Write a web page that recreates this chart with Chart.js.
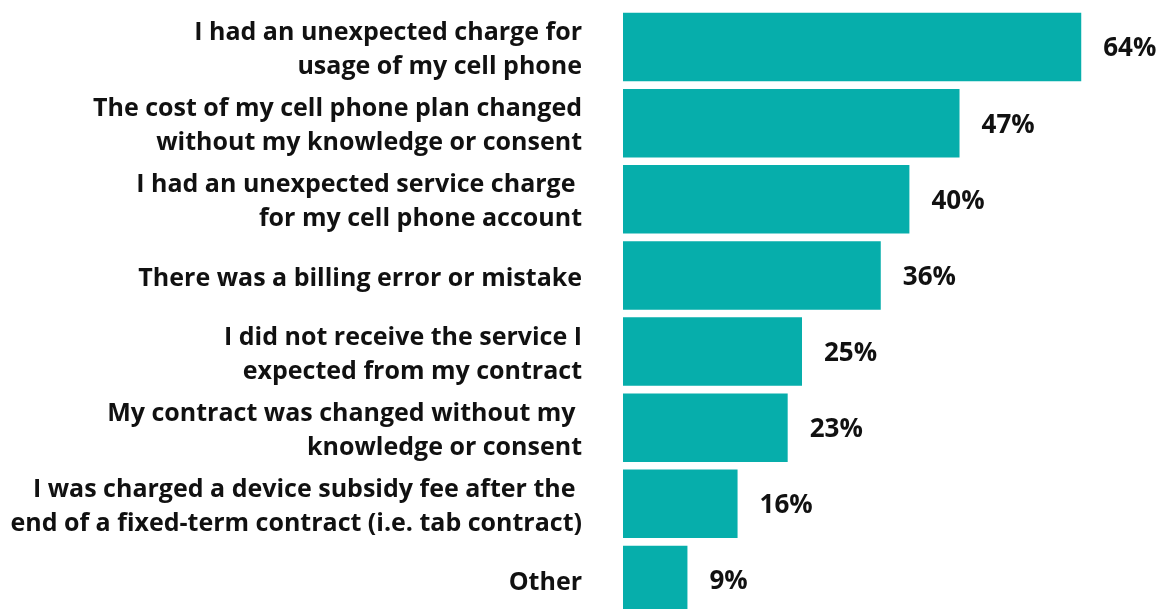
<!DOCTYPE html>
<html>
<head>
<meta charset="utf-8">
<script src="https://cdn.jsdelivr.net/npm/chart.js@4"></script>
<style>
html,body{margin:0;padding:0;background:#fff;overflow:hidden;}
#wrap{position:relative;width:1161px;height:620px;}
</style>
</head>
<body>
<div id="wrap"><canvas id="c"></canvas></div>
<script>
const categories = [
  ["I had an unexpected charge for", "usage of my cell phone"],
  ["The cost of my cell phone plan changed", "without my knowledge or consent"],
  ["I had an unexpected service charge ", "for my cell phone account"],
  ["There was a billing error or mistake"],
  ["I did not receive the service I", "expected from my contract"],
  ["My contract was changed without my ", "knowledge or consent"],
  ["I was charged a device subsidy fee after the ", "end of a fixed-term contract (i.e. tab contract)"],
  ["Other"]
];
const values = [64, 47, 40, 36, 25, 23, 16, 9];
const valueLabels = ["64%", "47%", "40%", "36%", "25%", "23%", "16%", "9%"];

const FONT = "'Open Sans', sans-serif";

const valuePlugin = {
  id: 'valueLabels',
  afterDatasetsDraw(chart) {
    const ctx = chart.ctx;
    const meta = chart.getDatasetMeta(0);
    ctx.save();
    ctx.font = "bold 26px " + FONT;
    ctx.fillStyle = '#111';
    ctx.textAlign = 'left';
    ctx.textBaseline = 'middle';
    meta.data.forEach((bar, i) => {
      ctx.fillText(valueLabels[i], bar.x + 22, bar.y + 2);
    });
    ctx.restore();
  }
};

new Chart(document.getElementById('c'), {
  type: 'bar',
  data: {
    labels: categories,
    datasets: [{
      data: values,
      backgroundColor: '#06AEAB',
      borderWidth: 0,
      categoryPercentage: 1,
      barPercentage: 0.9
    }]
  },
  options: {
    indexAxis: 'y',
    responsive: true,
    maintainAspectRatio: false,
    animation: false,
    layout: { padding: { top: 9, bottom: 2, left: 0, right: 1 } },
    plugins: { legend: { display: false }, tooltip: { enabled: false } },
    scales: {
      x: { display: false, min: 0, max: 75 },
      y: {
        grid: { display: false, drawTicks: false },
        border: { display: false },
        ticks: {
          padding: 41,
          labelOffset: 3,
          color: '#111',
          font: { family: FONT, weight: 'bold', size: 25, lineHeight: 1.36 }
        },
        afterFit(scale) {
          scale.width = 623;
          scale.paddingTop = 0;
          scale.paddingBottom = 0;
        }
      }
    }
  },
  plugins: [valuePlugin]
});
</script>
</body>
</html>
